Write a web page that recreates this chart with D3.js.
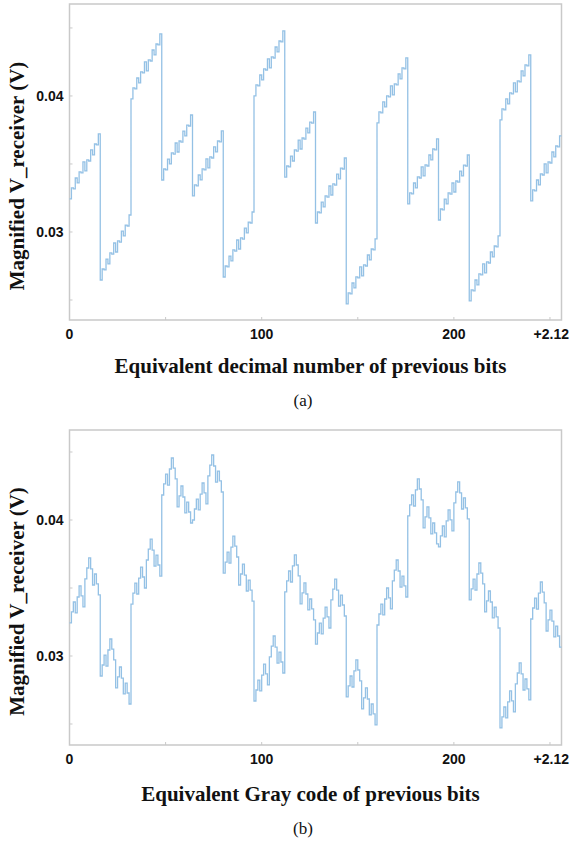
<!DOCTYPE html>
<html>
<head>
<meta charset="utf-8">
<script src="https://cdn.jsdelivr.net/npm/d3@7"></script>
<style>
  body { margin: 0; background: #fff; }
  .tick-label { font-family: "Liberation Sans", Arial, sans-serif; font-weight: bold; font-size: 14px; fill: #111; }
  .axis-title { font-family: "Liberation Serif", "Times New Roman", serif; font-weight: bold; font-size: 21px; fill: #111; }
  .caption { font-family: "Liberation Serif", "Times New Roman", serif; font-size: 17px; fill: #111; }
</style>
</head>
<body>
<svg id="chart" width="570" height="842"></svg>
<script>
// V_receiver (V) for each 8-bit history, indexed by the decimal value of the previous bits
const decimalValues = [
  0.03243, 0.03324, 0.03317, 0.03397, 0.03361, 0.03442, 0.03434, 0.03515, 0.03449, 0.03530, 0.03522, 0.03603, 0.03567, 0.03647, 0.03640, 0.03721,
  0.02647, 0.02728, 0.02721, 0.02801, 0.02765, 0.02846, 0.02838, 0.02919, 0.02853, 0.02934, 0.02926, 0.03007, 0.02971, 0.03051, 0.03044, 0.03125,
  0.03978, 0.04059, 0.04052, 0.04132, 0.04096, 0.04177, 0.04169, 0.04250, 0.04184, 0.04265, 0.04257, 0.04338, 0.04302, 0.04382, 0.04375, 0.04456,
  0.03382, 0.03463, 0.03456, 0.03536, 0.03500, 0.03581, 0.03573, 0.03654, 0.03588, 0.03669, 0.03661, 0.03742, 0.03706, 0.03786, 0.03779, 0.03860,
  0.03265, 0.03346, 0.03339, 0.03419, 0.03383, 0.03464, 0.03456, 0.03537, 0.03471, 0.03552, 0.03544, 0.03625, 0.03589, 0.03669, 0.03662, 0.03743,
  0.02669, 0.02750, 0.02743, 0.02823, 0.02787, 0.02868, 0.02860, 0.02941, 0.02875, 0.02956, 0.02948, 0.03029, 0.02993, 0.03073, 0.03066, 0.03147,
  0.04000, 0.04081, 0.04074, 0.04154, 0.04118, 0.04199, 0.04191, 0.04272, 0.04206, 0.04287, 0.04279, 0.04360, 0.04324, 0.04404, 0.04397, 0.04478,
  0.03404, 0.03485, 0.03478, 0.03558, 0.03522, 0.03603, 0.03595, 0.03676, 0.03610, 0.03691, 0.03683, 0.03764, 0.03728, 0.03808, 0.03801, 0.03882,
  0.03066, 0.03147, 0.03140, 0.03220, 0.03184, 0.03265, 0.03257, 0.03338, 0.03272, 0.03353, 0.03345, 0.03426, 0.03390, 0.03470, 0.03463, 0.03544,
  0.02471, 0.02552, 0.02545, 0.02625, 0.02589, 0.02670, 0.02662, 0.02743, 0.02677, 0.02758, 0.02750, 0.02831, 0.02795, 0.02875, 0.02868, 0.02949,
  0.03802, 0.03883, 0.03876, 0.03956, 0.03920, 0.04001, 0.03993, 0.04074, 0.04008, 0.04089, 0.04081, 0.04162, 0.04126, 0.04206, 0.04199, 0.04280,
  0.03206, 0.03287, 0.03280, 0.03360, 0.03324, 0.03405, 0.03397, 0.03478, 0.03412, 0.03493, 0.03485, 0.03566, 0.03530, 0.03610, 0.03603, 0.03684,
  0.03088, 0.03169, 0.03162, 0.03242, 0.03206, 0.03287, 0.03279, 0.03360, 0.03294, 0.03375, 0.03367, 0.03448, 0.03412, 0.03492, 0.03485, 0.03566,
  0.02493, 0.02574, 0.02567, 0.02647, 0.02611, 0.02692, 0.02684, 0.02765, 0.02699, 0.02780, 0.02772, 0.02853, 0.02817, 0.02897, 0.02890, 0.02971,
  0.03824, 0.03905, 0.03898, 0.03978, 0.03942, 0.04023, 0.04015, 0.04096, 0.04030, 0.04111, 0.04103, 0.04184, 0.04148, 0.04228, 0.04221, 0.04302,
  0.03228, 0.03309, 0.03302, 0.03382, 0.03346, 0.03427, 0.03419, 0.03500, 0.03434, 0.03515, 0.03507, 0.03588, 0.03552, 0.03632, 0.03625, 0.03706
];

// same readings, ordered by the Gray code of the previous bits
const grayValues = [
  0.03243, 0.03324, 0.03397, 0.03317, 0.03434, 0.03515, 0.03442, 0.03361, 0.03567, 0.03647, 0.03721, 0.03640, 0.03522, 0.03603, 0.03530, 0.03449,
  0.02853, 0.02934, 0.03007, 0.02926, 0.03044, 0.03125, 0.03051, 0.02971, 0.02765, 0.02846, 0.02919, 0.02838, 0.02721, 0.02801, 0.02728, 0.02647,
  0.03382, 0.03463, 0.03536, 0.03456, 0.03573, 0.03654, 0.03581, 0.03500, 0.03706, 0.03786, 0.03860, 0.03779, 0.03661, 0.03742, 0.03669, 0.03588,
  0.04184, 0.04265, 0.04338, 0.04257, 0.04375, 0.04456, 0.04382, 0.04302, 0.04096, 0.04177, 0.04250, 0.04169, 0.04052, 0.04132, 0.04059, 0.03978,
  0.04000, 0.04081, 0.04154, 0.04074, 0.04191, 0.04272, 0.04199, 0.04118, 0.04324, 0.04404, 0.04478, 0.04397, 0.04279, 0.04360, 0.04287, 0.04206,
  0.03610, 0.03691, 0.03764, 0.03683, 0.03801, 0.03882, 0.03808, 0.03728, 0.03522, 0.03603, 0.03676, 0.03595, 0.03478, 0.03558, 0.03485, 0.03404,
  0.02669, 0.02750, 0.02823, 0.02743, 0.02860, 0.02941, 0.02868, 0.02787, 0.02993, 0.03073, 0.03147, 0.03066, 0.02948, 0.03029, 0.02956, 0.02875,
  0.03471, 0.03552, 0.03625, 0.03544, 0.03662, 0.03743, 0.03669, 0.03589, 0.03383, 0.03464, 0.03537, 0.03456, 0.03339, 0.03419, 0.03346, 0.03265,
  0.03088, 0.03169, 0.03242, 0.03162, 0.03279, 0.03360, 0.03287, 0.03206, 0.03412, 0.03492, 0.03566, 0.03485, 0.03367, 0.03448, 0.03375, 0.03294,
  0.02699, 0.02780, 0.02853, 0.02772, 0.02890, 0.02971, 0.02897, 0.02817, 0.02611, 0.02692, 0.02765, 0.02684, 0.02567, 0.02647, 0.02574, 0.02493,
  0.03228, 0.03309, 0.03382, 0.03302, 0.03419, 0.03500, 0.03427, 0.03346, 0.03552, 0.03632, 0.03706, 0.03625, 0.03507, 0.03588, 0.03515, 0.03434,
  0.04030, 0.04111, 0.04184, 0.04103, 0.04221, 0.04302, 0.04228, 0.04148, 0.03942, 0.04023, 0.04096, 0.04015, 0.03898, 0.03978, 0.03905, 0.03824,
  0.03802, 0.03883, 0.03956, 0.03876, 0.03993, 0.04074, 0.04001, 0.03920, 0.04126, 0.04206, 0.04280, 0.04199, 0.04081, 0.04162, 0.04089, 0.04008,
  0.03412, 0.03493, 0.03566, 0.03485, 0.03603, 0.03684, 0.03610, 0.03530, 0.03324, 0.03405, 0.03478, 0.03397, 0.03280, 0.03360, 0.03287, 0.03206,
  0.02471, 0.02552, 0.02625, 0.02545, 0.02662, 0.02743, 0.02670, 0.02589, 0.02795, 0.02875, 0.02949, 0.02868, 0.02750, 0.02831, 0.02758, 0.02677,
  0.03272, 0.03353, 0.03426, 0.03345, 0.03463, 0.03544, 0.03470, 0.03390, 0.03184, 0.03265, 0.03338, 0.03257, 0.03140, 0.03220, 0.03147, 0.03066
];

const xTickValues = [0, 100, 200];
const xMinorTicks = [50, 150, 250];
const yTickValues = [0.03, 0.04];
const yMinorTicks = [0.025, 0.035, 0.045];
const xOffsetLabel = "+2.12";
const yTitle = "Magnified V_receiver (V)";

const panels = [
  { values: decimalValues, top: 4, bottom: 320, yDomain: [0.02353, 0.04676],
    xTitle: "Equivalent decimal number of previous bits", titleY: 373, caption: "(a)", captionY: 406 },
  { values: grayValues, top: 430, bottom: 745, yDomain: [0.023456, 0.046618],
    xTitle: "Equivalent Gray code of previous bits", titleY: 801, caption: "(b)", captionY: 834 }
];

const svg = d3.select("#chart");
const left = 69.5, right = 561.5;

function drawPanel(p) {
  const g = svg.append("g");
  const x = d3.scaleLinear().domain([0, 256]).range([left, right]);
  const y = d3.scaleLinear().domain(p.yDomain).range([p.bottom, p.top]);

  // frame
  g.append("rect")
    .attr("x", left).attr("y", p.top)
    .attr("width", right - left).attr("height", p.bottom - p.top)
    .attr("fill", "none").attr("stroke", "#c9c9c9").attr("stroke-width", 1.5);

  // small inward ticks
  g.selectAll(".xt").data(xTickValues.concat(xMinorTicks)).enter().append("line")
    .attr("x1", d => x(d)).attr("x2", d => x(d))
    .attr("y1", p.bottom).attr("y2", p.bottom - 3)
    .attr("stroke", "#c9c9c9").attr("stroke-width", 1);
  g.selectAll(".yt").data(yTickValues.concat(yMinorTicks)).enter().append("line")
    .attr("x1", left).attr("x2", left + 3)
    .attr("y1", d => y(d)).attr("y2", d => y(d))
    .attr("stroke", "#c9c9c9").attr("stroke-width", 1);

  // tick labels
  g.selectAll(".xl").data(xTickValues).enter().append("text")
    .attr("class", "tick-label")
    .attr("x", d => x(d)).attr("y", p.bottom + 19)
    .attr("text-anchor", "middle")
    .text(d => d);
  g.append("text").attr("class", "tick-label")
    .attr("x", 569).attr("y", p.bottom + 19)
    .attr("text-anchor", "end")
    .text(xOffsetLabel);
  g.selectAll(".yl").data(yTickValues).enter().append("text")
    .attr("class", "tick-label")
    .attr("x", left - 6).attr("y", d => y(d) + 5)
    .attr("text-anchor", "end")
    .text(d => d3.format(".2f")(d));

  // step line
  const pts = p.values.map((v, i) => [i, v]);
  pts.push([p.values.length, p.values[p.values.length - 1]]);
  const line = d3.line()
    .x(d => x(d[0])).y(d => y(d[1]))
    .curve(d3.curveStepAfter);
  g.append("path")
    .attr("d", line(pts))
    .attr("fill", "none")
    .attr("stroke", "#94c1e5")
    .attr("stroke-width", 1.3);

  // titles
  g.append("text").attr("class", "axis-title")
    .attr("x", (left + right) / 2 - 5).attr("y", p.titleY)
    .attr("text-anchor", "middle")
    .text(p.xTitle);
  const cy = (p.top + p.bottom) / 2 + 14;
  g.append("text").attr("class", "axis-title")
    .attr("transform", `translate(24,${cy}) rotate(-90)`)
    .attr("text-anchor", "middle")
    .text(yTitle);
  g.append("text").attr("class", "caption")
    .attr("x", 303).attr("y", p.captionY)
    .attr("text-anchor", "middle")
    .text(p.caption);
}

panels.forEach(drawPanel);
</script>
</body>
</html>
